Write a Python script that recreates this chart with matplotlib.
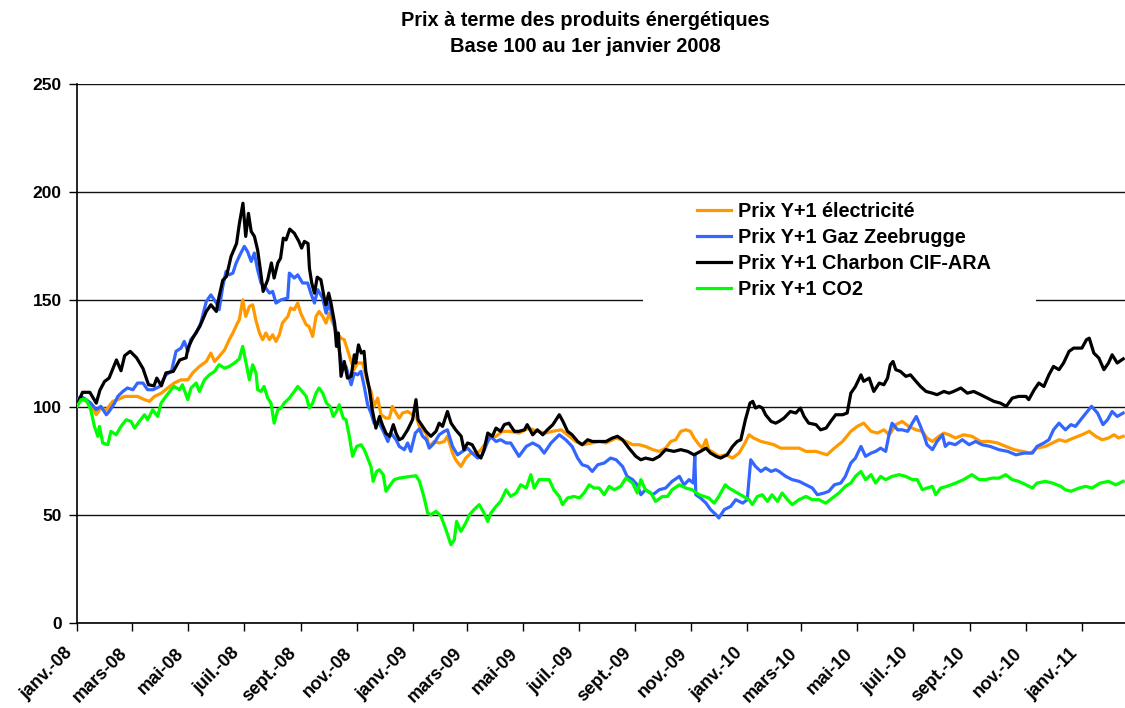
import matplotlib
matplotlib.use('Agg')
import matplotlib.pyplot as plt
import matplotlib.patches as mpatches
import matplotlib.transforms as mtransforms
import pandas as pd

plt.rcParams['font.family'] = ['Liberation Sans', 'DejaVu Sans']
plt.rcParams['font.weight'] = 'bold'

# days since 1 Jan 2008
elec_days = [0, 6, 14, 21, 26, 32, 39, 44.5, 52, 59, 66, 73.6, 79, 84.5, 92, 99, 106, 113.5, 121, 126, 133.5, 141, 146, 150, 155, 161, 166, 170, 175,
             177, 180.7, 184, 188, 191.6, 195, 199, 202.5, 206, 210, 213.4, 217, 220.7, 224, 230, 233, 237, 240.7, 244, 250, 253, 257, 260.7, 264, 268, 271.6, 275, 279, 284, 288, 291.5, 295, 299, 302, 306, 311.5, 317, 320.6, 324, 328, 331.5, 337, 340.6, 344, 348, 351.5, 355, 360.6, 366, 370,
             373.3, 380.6, 384, 389.6, 395, 400.5, 404, 409.6, 413, 418.7, 424, 429.6, 437, 440.5, 446, 451, 457, 464, 471, 482, 493, 502, 511, 518.6, 528, 535, 544, 551, 562,
             569.5, 577, 588, 599, 606, 613, 620, 628, 635, 642, 647.6, 653, 658.5, 664, 669, 673, 678.5, 682, 686, 689, 695, 700, 708, 715, 722, 727.5, 733, 738, 746, 753, 760,
             767.5, 776.6, 787.5, 795, 806, 818, 826, 835, 844, 851, 858, 866, 873, 880, 886, 893, 900, 907, 915, 922, 927, 933, 940, 945.5,
             951, 958, 967, 976, 985.5, 995, 1004, 1013, 1022, 1031, 1040, 1047, 1056, 1064, 1071, 1078, 1087, 1096, 1104, 1111, 1118, 1125, 1131, 1136, 1141]
elec_vals = [102, 103.6, 102, 96.6, 99.7, 98.9, 102.8, 103.6, 105.1, 105.1, 105.1, 103.6, 102.8, 105.1, 106.6, 109, 111.3, 112.8, 112.8, 115.9, 119, 121.3, 125.2, 121.3, 123.6, 126.7, 131.4, 134.5, 139.1,
             140.6, 149.9, 142.2, 146.8, 147.6, 140.6, 134.5, 131.4, 134.5, 131.4, 133.7, 130.6, 133.7, 139.1, 142.2, 146.1, 145.3, 148.4, 143.7, 138.3, 137.6, 132.9, 142.2, 144.5, 142.2, 139.1, 143.7, 139.1, 134.5, 132.1, 131.4, 126.7, 121.3, 117.5, 120.6, 120.6, 111.3, 107.4, 100.5, 104.3, 96.6, 95, 95, 100.5, 97.4, 95, 97.4, 98.1, 96.6, 95.8,
             91.2, 88.1, 81.9, 84.2, 83.5, 84.2, 86.6, 78.8, 75.7, 72.6, 76.5, 78.8, 78.8, 80.4, 83.5, 85.8, 86.6, 88.9, 88.9, 88.1, 90.4, 88.9, 88.1, 88.9, 89.6, 87.3, 84.2, 82.7, 83.5,
             84.2, 83.5, 85.8, 84.2, 82.7, 82.7, 81.9, 80.4, 79.6, 81.1, 84.2, 85, 88.9, 89.6, 88.9, 85.8, 82.7, 81.1, 85, 80.4, 78.8, 77.3, 78, 76.5, 78.8, 82.7, 87.3, 85.8, 84.2, 83.5, 82.7,
             81.1, 81.1, 81.1, 79.6, 79.6, 78, 81.1, 84.2, 88.9, 91.2, 92.7, 88.9, 88.1, 89.6, 87.3, 92, 93.5, 91.2, 89.6, 88.9, 85.8, 84.2, 86.6, 88.1,
             87.3, 85.8, 87.3, 86.6, 84.2, 84.2, 83.5, 81.9, 80.4, 79.6, 78.8, 81.1, 81.9, 83.5, 85, 84.2, 85.8, 87.3, 88.9, 86.6, 85, 85.8, 87.3, 85.8, 86.6]

gaz_days = [0, 4.5, 10, 15, 21, 26, 32, 35, 41, 44.5, 50, 55, 61, 66, 72, 77, 83, 90, 97, 103, 108, 113.5, 117, 121, 124, 130, 135, 141, 146, 152, 155, 159, 162.6, 166, 170, 173.5,
            178, 182.5, 186, 190, 193.4, 197, 200.7, 206, 210, 213.4, 217, 222.5, 229.8, 231.6, 237, 240.7, 246, 251.6, 255, 259, 262.5, 268, 271.6, 275, 279, 282.5, 286, 289.7, 293.4, 299, 302.4, 306, 309.7, 313.3, 317, 320.6, 324, 329.7, 335, 339, 342.4, 348, 351.5, 357, 360.6, 364, 369,
            373.3, 377, 381, 384.2, 389.6, 395, 400.5, 404, 409.6, 415, 420.5, 426, 431, 437, 442, 448, 451, 457, 462, 468, 473, 482, 490, 497, 504, 509.5, 517, 526, 533, 540, 546, 551, 557, 562, 568,
            575, 582, 588, 595, 600, 606, 611, 615, 620, 628, 635, 642, 649, 657, 662, 667.6, 672.3, 673.8, 674.9, 680, 686, 691, 697, 700, 706, 713, 718.5, 726, 731, 734.8, 740, 746, 751, 757, 762,
            765.7, 773, 780, 787.5, 795, 802, 807.5, 815, 820, 826, 833, 838, 844, 849, 855, 860, 866, 871, 876.5, 882, 885.6, 889, 895, 900, 906, 911, 915.4, 920, 924, 927, 933, 938, 944, 947,
            951, 958, 965.5, 973, 980, 987, 996, 1005.5, 1015, 1024, 1033, 1042, 1047, 1054.5, 1060, 1065, 1071, 1078, 1084, 1089, 1096, 1102, 1106.5, 1113, 1119, 1124, 1129, 1134.5, 1141]
gaz_vals = [103.6, 105.1, 103.6, 102, 98.9, 100.5, 96.6, 98.1, 102, 105.1, 107.4, 109, 108.2, 111.3, 111.3, 108.2, 108.2, 109.7, 115.1, 116.7, 126, 127.5, 130.6, 126, 131.4, 134.5, 139.1, 149.1, 152.2, 148.4, 145.3, 156.1, 163.1, 161.5, 162.3, 166.9,
            171, 174.7, 172.3, 167.7, 171.6, 163.8, 157.7, 155.3, 153, 153.8, 148.4, 149.9, 150.7, 162.3, 160, 161.5, 157.7, 157.7, 153, 148.4, 154.6, 150.7, 143.7, 148.4, 141.4, 134.5, 126.7, 117.5, 119, 110.5, 115.9, 115.1, 116.7, 109.7, 101.2, 97.4, 92.7, 92.7, 88.1, 84.2, 88.1, 85, 81.9, 80.4, 83.5, 79.6, 88.1,
            90, 86.6, 85, 81.1, 83.5, 87.3, 88.9, 89.6, 81.9, 78, 79.6, 81.1, 78.8, 76.5, 78, 84.2, 86.6, 84.2, 85, 83.5, 83.5, 77.3, 81.9, 83.5, 81.9, 78.8, 83.5, 87.3, 85, 81.9, 76.5, 73.4, 72.6, 70.3, 73.4,
            74.2, 76.5, 75.7, 72.6, 68, 66.5, 64.1, 59.5, 61.8, 59.5, 61.8, 62.6, 65.7, 68, 64.1, 66.5, 64.9, 78, 59.5, 58, 55.6, 52.6, 50.2, 48.7, 52.6, 54.1, 57.2, 55.6, 57.2, 75.7, 72.6, 70.3, 71.9, 70.3, 71.1,
            70.3, 68, 66.5, 65.7, 64.1, 62.6, 59.5, 60.3, 61.1, 64.1, 64.9, 68, 74.2, 76.5, 81.9, 77.3, 78.8, 79.6, 81.1, 79.6, 87.3, 92.7, 89.6, 89.6, 88.9, 92.7, 95.8, 91.2, 86.6, 82.7, 80.4, 84.2, 87.3, 81.9,
            83.5, 82.7, 85, 82.7, 84.2, 82.7, 81.9, 80.4, 79.6, 78, 78.8, 78.8, 81.9, 83.5, 85, 89.6, 92.7, 89.6, 92, 91.2, 95, 98.1, 100.5, 97.4, 92, 94.3, 98.1, 95.8, 97.4]

charbon_days = [1, 6, 14, 21, 25, 30, 35, 43, 48, 52, 58, 65, 72, 78, 84, 87, 92, 97, 105, 112, 119, 121, 126, 134, 141, 146, 152, 155, 159, 163, 168, 174,
                177, 181, 184, 187, 190, 193.5, 197, 200, 203, 208, 212, 215, 219, 222, 225, 228, 232, 237, 242, 245, 248, 252, 253.5, 256, 259, 262, 266, 270, 271.5, 274.5, 277, 281, 283, 285, 288, 291.5, 295, 299, 302.5, 304, 307, 310, 313, 315, 319, 322, 326, 330, 333, 337, 341, 345, 348, 351.5, 355, 360.6, 366, 369.7, 372,
                380.6, 386, 391.5, 395, 398.7, 404, 408, 413, 419, 422, 426, 431, 437, 440.5, 444, 448, 453, 457, 462, 466, 471, 477, 482, 488, 491, 497, 502, 508, 513, 519, 526, 530, 535, 540, 546, 551, 557, 562, 568,
                577, 584, 589.5, 595, 602, 609.5, 615, 620, 628, 635, 642, 651, 658.5, 666, 673, 680, 686, 691, 697, 702, 709, 715, 720, 724, 729, 734, 737, 740, 744, 747.5, 751, 757, 762,
                765.7, 771, 778, 784, 789, 793, 798, 806, 811, 817, 822, 827.5, 835, 840, 844, 849, 855, 858, 864, 869, 875, 880, 884, 887, 890, 893, 898, 904, 909, 915, 920, 926, 933, 938, 945.5,
                951, 956, 964, 971, 978, 985.5, 993, 1000, 1007, 1013.5, 1020, 1027, 1035, 1038, 1044, 1049, 1054.5, 1060, 1065, 1071, 1076, 1082, 1087, 1096, 1101, 1104, 1109, 1114.5, 1120, 1125, 1129, 1134.5, 1141]
charbon_vals = [102, 107, 107, 102, 108, 112, 113.6, 122, 117, 124, 126, 123, 118, 110.5, 110, 113.6, 110, 116, 116.7, 122, 123, 127.5, 132, 137.6, 144.5, 147.6, 144.5, 151.5, 159, 160.7, 170, 176,
                185, 194.7, 179.3, 190, 181.6, 179.3, 173, 163.8, 153.8, 159.2, 167, 160, 167, 169.2, 178.5, 177.7, 182.7, 180.8, 177, 173.9, 177, 176, 164.6, 157.7, 153, 160.4, 159.2, 150, 147.6, 153, 148.4, 139, 128.3, 134.5, 114.4, 121.3, 113.6, 114.4, 124.4, 120.6, 129, 125.2, 126, 116.7, 108.2, 99, 90.4, 95.8, 92, 88, 86.6, 92, 88, 85, 85.8, 89.6, 94.3, 103.6, 94.3,
                88.9, 86.6, 88.9, 92.7, 91.2, 98.1, 92.7, 89.6, 86.6, 80.4, 83.5, 82.7, 78, 76.5, 80.4, 88.1, 86.6, 90.4, 88.9, 92, 92.7, 88.9, 88.9, 89.6, 92, 87.3, 89.6, 87.3, 89.6, 92, 96.6, 93.5, 88.9, 87.3, 84.2, 82.7, 85, 84.2, 84.2,
                84.2, 85.8, 86.6, 85, 81.1, 77.3, 75.7, 76.5, 75.7, 77.3, 80.4, 79.6, 80.4, 79.6, 78, 79.6, 81.1, 78.8, 77.3, 76.5, 78, 81.9, 84.2, 85, 94.3, 102, 102.8, 99.7, 100.5, 99.7, 96.6, 93.5, 92.7,
                93.5, 95, 98.1, 97.4, 99.7, 95.8, 92.7, 92, 89.6, 90.4, 93.5, 96.6, 96.6, 97.4, 106.6, 109.7, 115.1, 112.1, 113.6, 107.4, 111.3, 110.5, 113.6, 119.8, 121.3, 117.5, 116.7, 114.4, 115.1, 112.1, 109.7, 107.4, 106.6, 105.9, 107.4,
                106.6, 107.4, 109, 106.6, 107.4, 105.9, 104.3, 102.8, 102, 100.5, 104.3, 105.1, 105.1, 103.6, 108.2, 111.3, 109.7, 115.1, 119, 117.5, 120.6, 126, 127.5, 127.5, 131.4, 132.1, 125.2, 122.9, 117.5, 120.6, 124.4, 120.6, 122.5]

co2_days = [0, 4.5, 10, 15, 19, 22.7, 24.5, 28, 33.6, 37, 42.7, 48, 53.6, 59, 62.7, 68, 73.6, 77, 82.6, 88, 91.7, 97, 102.6, 106, 111.7, 115, 120.8, 124.4, 130, 133.5, 139, 144.4, 150, 155, 161, 166, 171.7, 177,
            180.7, 184.4, 188, 191.6, 195.3, 197, 200.7, 204, 208, 211.6, 215, 219, 222.5, 226, 231.6, 237, 240.7, 244, 250, 253.4, 257, 260.7, 264, 268, 272, 276, 279.5, 283, 286, 290.4, 293.4, 297, 300.6, 305, 309.7, 313.3, 317, 320.6, 323, 326.8, 329.7, 334, 337, 340.6, 346, 351.5, 358.8, 364, 369.7,
            373.3, 378.7, 382.4, 386, 391.5, 396.9, 402.4, 407.8, 411.5, 414, 418.7, 424, 428, 433, 438.7, 444, 448, 451.4, 457, 462, 468, 473, 479, 484, 490, 495, 498.6, 504, 509.5, 515, 520, 526, 529.5, 535, 542, 548, 553, 558.6, 564,
            569.5, 575, 580.4, 586, 593, 598.6, 606, 611, 615, 620, 626, 631, 638.5, 644, 649, 657, 664, 671, 678.5, 684, 689, 695, 700, 707, 711, 733, 736.6, 742, 747.5, 753, 758, 764,
            769, 775, 780, 787.5, 795, 802, 809, 816.6, 824, 831, 838, 844, 849, 855, 860, 866, 871, 876.5, 882, 889, 896.5, 904, 911, 916.5, 922, 927, 933, 936.5, 942, 949,
            958.3, 967, 976, 984, 991, 998, 1005.5, 1013, 1020, 1027, 1035, 1042, 1047, 1056, 1064, 1073, 1078, 1084, 1093, 1100, 1107, 1116, 1125, 1133, 1141]
co2_vals = [100.5, 103.6, 103.6, 98.9, 91.2, 86.6, 91.2, 83.5, 82.7, 88.9, 87.3, 91.2, 94.3, 93.5, 90.4, 93.5, 96.6, 94.3, 98.9, 95.8, 102, 105.1, 108.2, 109.7, 108.2, 110.5, 103.6, 109, 111.3, 107.4, 112.8, 115.1, 116.7, 119.8, 118.2, 119, 120.6, 122.5,
            128.3, 120.6, 112.8, 119.8, 115.9, 108.2, 107.4, 109.7, 104.3, 102, 92.7, 98.9, 99.7, 102, 104.3, 107.4, 109.7, 108.2, 105.1, 99.7, 102, 106.6, 109, 106.6, 102, 100.5, 95.8, 98.1, 101.2, 95, 94.3, 86.6, 77.3, 81.9, 82.7, 80.4, 76.5, 72.6, 65.7, 70.3, 71.1, 68.8, 61.1, 63.4, 66.5, 67.2, 67.7, 68, 68.3,
            66, 58, 51, 50.2, 51.8, 49.5, 43.3, 36.3, 38.6, 47.1, 42.5, 46.4, 50.2, 52.6, 54.9, 51, 47.1, 51, 54.1, 56.4, 61.8, 58.7, 60.3, 64.1, 62.6, 68.8, 62.6, 66.5, 66.5, 66.5, 61.8, 58.7, 54.9, 58, 58.7, 58, 60.3, 64.1, 62.6,
            62.6, 59.5, 63.4, 61.8, 63.4, 67.2, 64.9, 60.3, 66.5, 61.8, 60.3, 56.4, 58.7, 58.7, 61.8, 64.1, 62.6, 61.8, 59.5, 58.7, 58, 55.6, 58.7, 64.1, 62.6, 57.2, 54.9, 58.7, 59.5, 56.4, 59.5, 56.4,
            60.3, 57.2, 54.9, 57.2, 58.7, 57.2, 57.2, 55.6, 58, 60.3, 63.4, 64.9, 68, 70.3, 66.5, 68.8, 64.9, 68, 66.5, 68, 68.8, 68, 66.5, 66.5, 61.8, 62.6, 63.4, 59.5, 62.6, 63.4,
            64.9, 66.5, 68.8, 66.5, 66.5, 67.2, 67.2, 68.8, 66.5, 65.7, 64.1, 62.6, 64.9, 65.7, 64.9, 63.4, 61.8, 61.1, 62.6, 63.4, 62.6, 64.9, 65.7, 64.1, 65.7]

labels = ['Prix Y+1 électricité', 'Prix Y+1 Gaz Zeebrugge', 'Prix Y+1 Charbon CIF-ARA', 'Prix Y+1 CO2']
colors = ['#FF9900', '#3366FF', '#000000', '#00FF00']

tick_dates = ['2008-01-01', '2008-03-01', '2008-05-01', '2008-07-01', '2008-09-01', '2008-11-01',
              '2009-01-01', '2009-03-01', '2009-05-01', '2009-07-01', '2009-09-01', '2009-11-01',
              '2010-01-01', '2010-03-01', '2010-05-01', '2010-07-01', '2010-09-01', '2010-11-01',
              '2011-01-01']
tick_labels = ['janv.-08', 'mars-08', 'mai-08', 'juil.-08', 'sept.-08', 'nov.-08',
               'janv.-09', 'mars-09', 'mai-09', 'juil.-09', 'sept.-09', 'nov.-09',
               'janv.-10', 'mars-10', 'mai-10', 'juil.-10', 'sept.-10', 'nov.-10',
               'janv.-11']

start = pd.Timestamp('2008-01-01')


def to_dates(days):
    return start + pd.to_timedelta(days, unit='D')


fig = plt.figure(figsize=(11.25, 7.08), dpi=100)
ax = fig.add_axes([77 / 1125, 85 / 708, 1048 / 1125, 539 / 708])

series = [(elec_days, elec_vals), (gaz_days, gaz_vals), (charbon_days, charbon_vals), (co2_days, co2_vals)]
for (d, v), lab, col in zip(series, labels, colors):
    ax.plot(to_dates(d), v, color=col, lw=2.3, label=lab, zorder=3)

ax.set_ylim(0, 250)
ax.set_yticks(range(0, 251, 50))
ax.set_xlim(start, start + pd.Timedelta(days=1143))
ax.set_xticks(pd.to_datetime(tick_dates))
ax.set_xticklabels(tick_labels, rotation=45, ha='right', va='center', rotation_mode='anchor')

ax.grid(axis='y', color='#111111', lw=1, zorder=1)
ax.set_axisbelow(True)
for s in ['top', 'right']:
    ax.spines[s].set_visible(False)
for s in ['left', 'bottom']:
    ax.spines[s].set_linewidth(1.2)
ax.tick_params(axis='y', direction='out', length=6, width=1, labelsize=12.5, pad=5)
ax.tick_params(axis='x', direction='out', length=6, width=1, labelsize=13, pad=14)
shift = mtransforms.ScaledTranslation(-7 / 100, 0, fig.dpi_scale_trans)
for t in ax.get_xticklabels():
    t.set_transform(t.get_transform() + shift)

# white legend background that hides the gridline
ax.add_patch(mpatches.Rectangle(((643 - 77) / 1048, (623 - 303) / 539), (1036 - 643) / 1048, 108 / 539,
                                transform=ax.transAxes, facecolor='white', edgecolor='none', zorder=2))
ax.legend(loc='upper left', bbox_to_anchor=((697 - 77) / 1048, (623 - 202) / 539), frameon=False,
          fontsize=14.3, borderpad=0, borderaxespad=0, handlelength=1.7, handletextpad=0.38, labelspacing=0.36)

fig.text(585 / 1125, 1 - 21 / 708, 'Prix à terme des produits énergétiques',
         ha='center', va='center', fontsize=14.4, fontweight='bold')
fig.text(585 / 1125, 1 - 46 / 708, 'Base 100 au 1er janvier 2008',
         ha='center', va='center', fontsize=14.4, fontweight='bold')

fig.savefig('out.png', dpi=100)
